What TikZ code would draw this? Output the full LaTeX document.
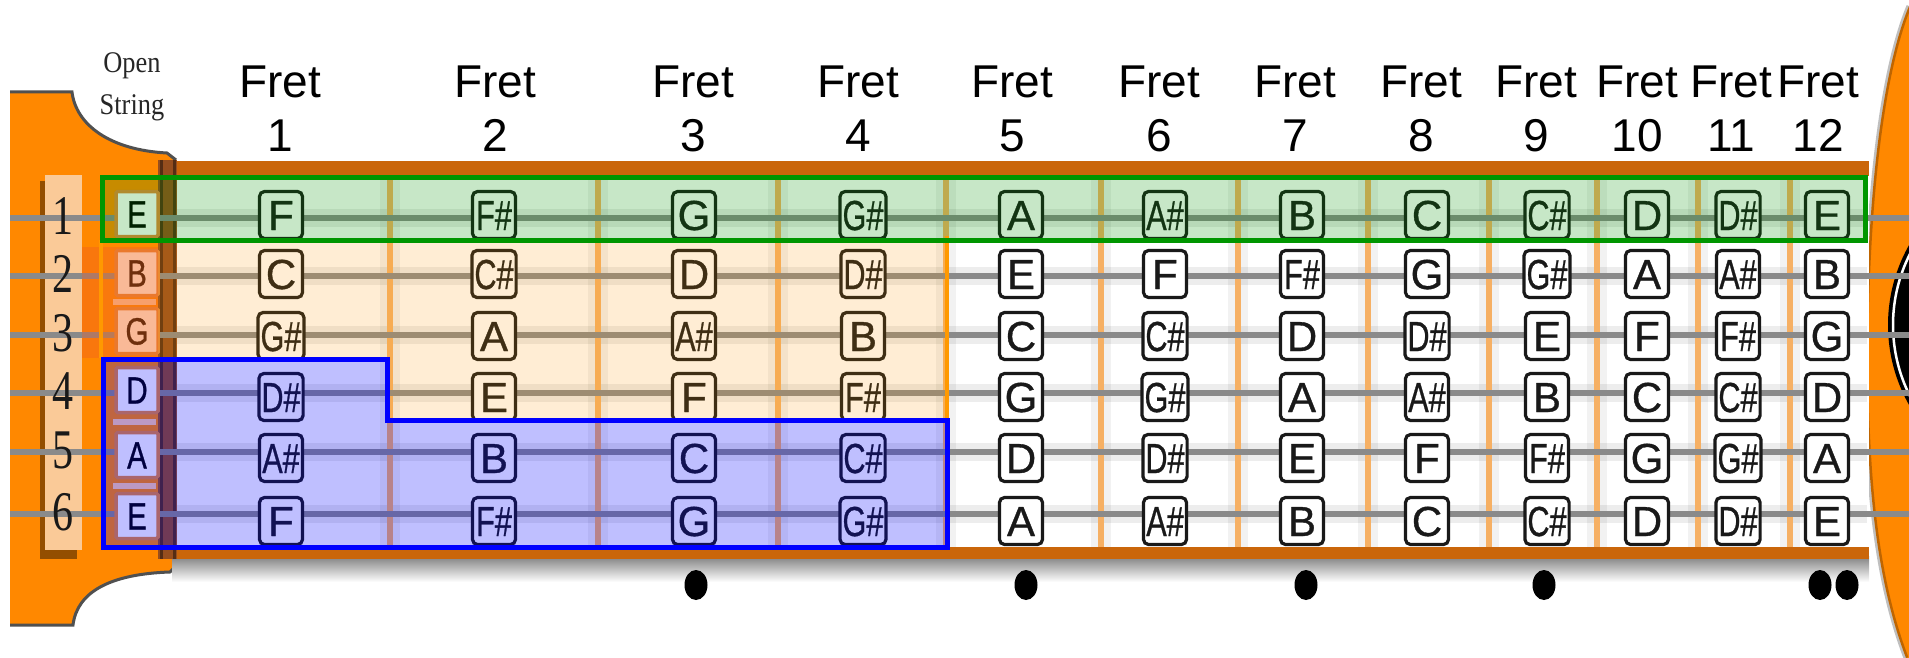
\documentclass[tikz,border=0pt]{standalone}
\usepackage{fontspec}
\setmainfont{Liberation Sans}
\newfontfamily\seriffam{Liberation Serif}
\newfontfamily\notefont[FakeBold=0.8]{Liberation Sans}
\usepackage{graphicx}

\definecolor{headorange}{RGB}{255,136,0}
\definecolor{bandbrown}{RGB}{202,102,10}
\definecolor{fretorange}{RGB}{246,176,100}
\definecolor{stringgray}{RGB}{138,138,138}
\definecolor{numpeach}{RGB}{250,202,152}
\definecolor{outlinegray}{RGB}{80,80,80}
\definecolor{nutbrown}{RGB}{150,78,30}
\definecolor{nutdark}{RGB}{85,45,20}
\definecolor{openframe}{RGB}{228,135,60}
\definecolor{sepbar}{RGB}{252,205,175}
\definecolor{hlgreen}{RGB}{0,150,0}
\definecolor{hlblue}{RGB}{0,0,255}
\definecolor{hlorange}{RGB}{255,153,0}
\definecolor{hlred}{RGB}{240,90,40}

% sharp note, set a little narrower so it fits its box
\newcommand\sh[1]{\scalebox{0.73}[1]{#1\#}}
% x position of each column: open string, then frets 1..12
\newcommand\colx{{137,281,494,694,863,1021,1165,1302,1427,1547,1647,1738,1827}}
% one row of fretted notes
\newcommand\noterow[3]{%
  \foreach \nt [count=\ci] in {#3} {%
    \pgfmathsetmacro\xx{\colx[\ci]}%
    \node[notebox] (n#1-\ci) at (\xx,#2) {\nt};%
  }%
}

\begin{document}
\begin{tikzpicture}[x=1pt,y=-1pt,
  notebox/.style={draw=black!90, line width=3.2pt, fill=white, rounded corners=5pt,
    minimum width=43pt, minimum height=47pt, inner sep=2.5pt,
    font=\notefont\fontsize{42}{42}\selectfont, text height=30pt, text depth=0pt, text=black!90},
  openbox/.style={draw=openframe, line width=3.5pt, fill=white, rounded corners=1.5pt,
    minimum width=42pt, minimum height=45pt, inner sep=0pt,
    font=\notefont\fontsize{38}{38}\selectfont, text height=27pt, text depth=0pt},
  rownum/.style={font=\seriffam\fontsize{56}{56}\selectfont, text height=37pt,
    text depth=0pt, inner sep=0pt, text=black!90},
  fretlbl/.style={font=\fontsize{46}{46}\selectfont, inner sep=0pt, anchor=base},
  opentxt/.style={font=\seriffam\fontsize{30}{30}\selectfont, inner sep=0pt,
    anchor=base, text=black!85},
  fretline/.style={draw=fretorange, line width=6.5pt},
  stringline/.style={draw=stringgray, line width=5.5pt},
  inlay/.style={fill=black}
]
\useasboundingbox (0,0) rectangle (1909,658);

% guitar body and sound hole on the right
\begin{scope}
  \clip (0,0) rectangle (1909,658);
  \fill[headorange] (1909,6) .. controls (1882,70) and (1866,200) .. (1866,360)
    .. controls (1866,500) and (1880,590) .. (1906,658) -- (1909,658) -- cycle;
  \draw[black, opacity=.25, line width=5pt] (1909,6) .. controls (1882,70) and (1866,200) .. (1866,360)
    .. controls (1866,500) and (1880,590) .. (1906,658);
  \fill[black] (2050,325) circle[radius=162pt];
  \draw[white, line width=2.5pt] (2050,325) circle[radius=157pt];
\end{scope}

% headstock
\fill[headorange] (10,92) -- (72,92) .. controls (76,125) and (110,150) .. (167,153)
  -- (176,160) -- (176,566) -- (170,572) .. controls (110,574) and (77,592) .. (73,625)
  -- (10,625) -- cycle;
\draw[outlinegray, line width=3pt] (10,92) -- (72,92) .. controls (76,125) and (110,150) .. (167,153) -- (176,160);
\draw[outlinegray, line width=3pt] (176,566) -- (170,572) .. controls (110,574) and (77,592) .. (73,625) -- (10,625);

% fretboard
\shade[top color=black!50, bottom color=white] (172,556) rectangle (1869,582);
\fill[white] (172,170) rectangle (1869,552);
\foreach \yy in {218,276,335,393,452,514}
  \draw[black, opacity=.07, line width=18pt] (176,\yy) -- (1867,\yy);
\foreach \xx in {390,598,778,946,1101,1238,1368,1489,1597,1698,1790} {
  \draw[black, opacity=.05, line width=20pt] (\xx,176) -- (\xx,547);
  \draw[fretline] (\xx,172) -- (\xx,550);
}
\fill[bandbrown] (172,161) rectangle (1869,176);
\fill[bandbrown] (172,547) rectangle (1869,559);

% nut
\fill[nutbrown] (158,160) rectangle (177,559);
\draw[nutdark, line width=3pt] (161,160) -- (161,559);
\draw[nutdark, line width=3pt] (174,160) -- (174,559);

% string number column
\fill[black!60!headorange, opacity=.7] (40,181) rectangle (77,559);
\fill[numpeach] (45,175) rectangle (82,550);

% strings
\foreach \yy in {218,276,335,393,452,514}
  \draw[stringline] (10,\yy) -- (1909,\yy);

% string numbers
\foreach \yy [count=\si] in {216,274,333,391,450,512}
  \node[rownum] (num\si) at (63,\yy) {\scalebox{0.75}[1]{\si}};

% open strings
\foreach \yy in {302,422,486}
  \fill[sepbar] (113,\yy-3) rectangle (156,\yy+3);
\foreach \nt/\yy [count=\si] in {E/214,B/273,G/331,D/390,A/455,E/516}
  \node[openbox] (open\si) at (137,\yy) {\scalebox{0.78}[1]{\nt}};

% fretted notes
\noterow{1}{215}{F,\sh{F},G,\sh{G},A,\sh{A},B,C,\sh{C},D,\sh{D},E}
\noterow{2}{274}{C,\sh{C},D,\sh{D},E,F,\sh{F},G,\sh{G},A,\sh{A},B}
\noterow{3}{336}{\sh{G},A,\sh{A},B,C,\sh{C},D,\sh{D},E,F,\sh{F},G}
\noterow{4}{397}{\sh{D},E,F,\sh{F},G,\sh{G},A,\sh{A},B,C,\sh{C},D}
\noterow{5}{458}{\sh{A},B,C,\sh{C},D,\sh{D},E,F,\sh{F},G,\sh{G},A}
\noterow{6}{521}{F,\sh{F},G,\sh{G},A,\sh{A},B,C,\sh{C},D,\sh{D},E}

% highlighted regions
\fill[hlgreen, opacity=.22] (100,175) rectangle (1867,242);
\fill[hlorange, opacity=.17] (101,242) -- (947,242) -- (947,420) -- (387,420) -- (387,359) -- (101,359) -- cycle;
\fill[hlred, opacity=.35] (82,247) rectangle (158,358);
\fill[hlblue, opacity=.25] (103,359) -- (387,359) -- (387,420) -- (947,420) -- (947,547) -- (103,547) -- cycle;

\draw[hlorange, line width=4pt] (101,240) -- (101,358);
\draw[hlorange, line width=4pt] (947,236) -- (947,420);
\draw[hlgreen, line width=5pt] (102,177.5) rectangle (1865,240);
\draw[hlblue, line width=5pt, line join=miter] (103,359) -- (387,359) -- (387,420) -- (947,420)
  -- (947,547) -- (103,547) -- cycle;

% position inlays
\foreach \xx [count=\di] in {696,1026,1306,1544,1820,1847}
  \fill[inlay] (\xx,585) ellipse[x radius=11.5pt, y radius=15pt];

% headings
\node[opentxt] (optop) at (132,73) {\scalebox{0.88}[1]{Open}};
\node[opentxt] (opbot) at (132,115) {\scalebox{0.88}[1]{String}};
\foreach \xx [count=\fno] in {280,495,693,858,1012,1159,1295,1421,1536,1637,1731,1818} {
  \node[fretlbl] (fret\fno) at (\xx,98) {Fret};
  \node[fretlbl] (fretnum\fno) at (\xx,152) {\fno};
}
\end{tikzpicture}
\end{document}
